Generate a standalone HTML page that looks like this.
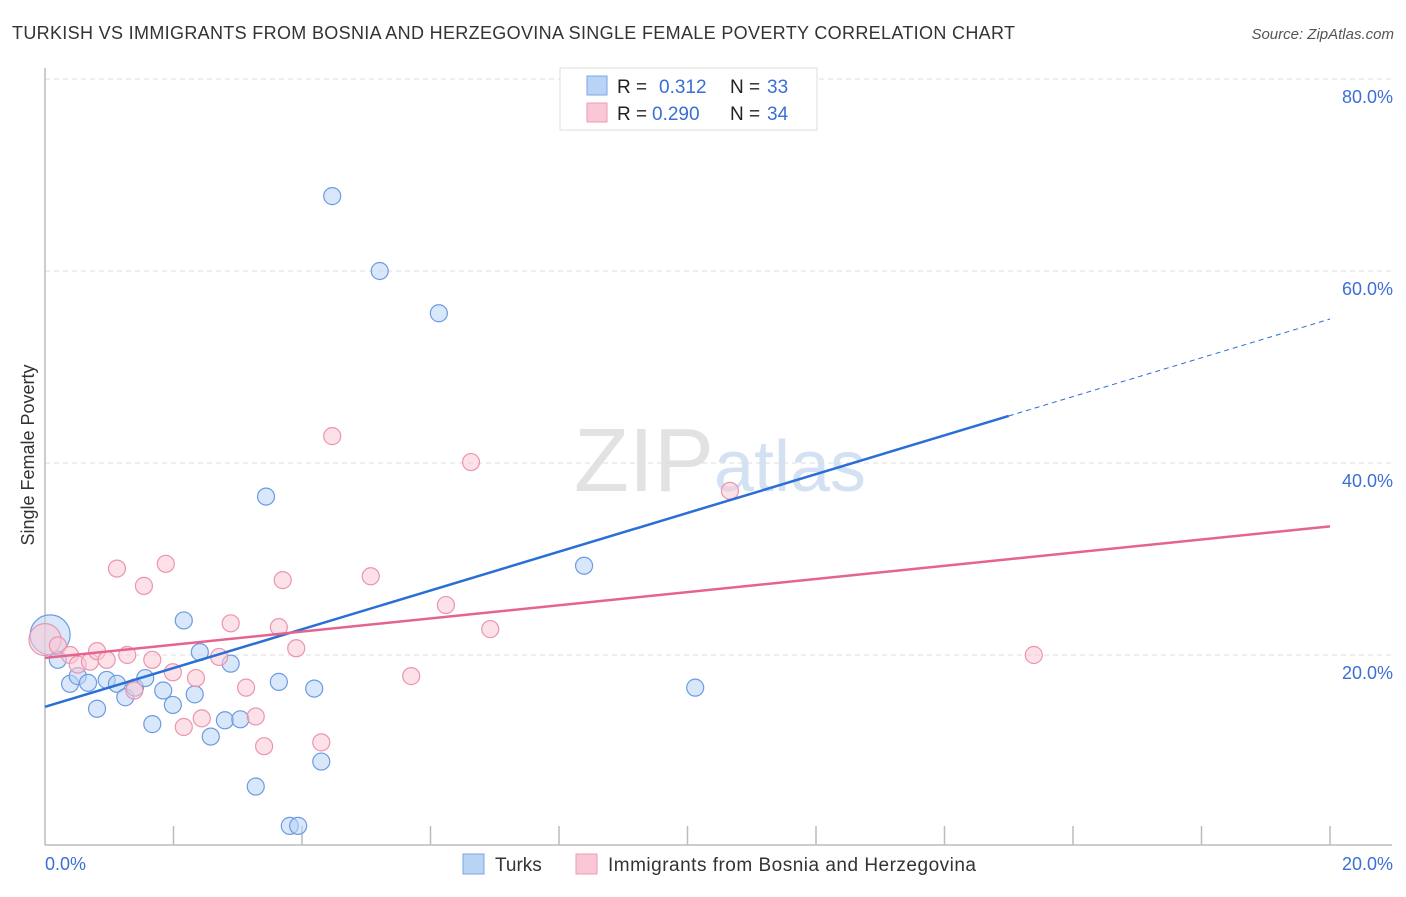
<!DOCTYPE html>
<html><head><meta charset="utf-8"><style>
body{margin:0;background:#fff;font-family:"Liberation Sans",sans-serif;}
svg text{font-family:"Liberation Sans",sans-serif;}
</style></head><body>
<svg id="chart" width="1406" height="892" xmlns="http://www.w3.org/2000/svg">
<text x="12" y="39" font-size="18" fill="#333" textLength="1003" lengthAdjust="spacing">TURKISH VS IMMIGRANTS FROM BOSNIA AND HERZEGOVINA SINGLE FEMALE POVERTY CORRELATION CHART</text>
<text x="1394" y="39" font-size="15" fill="#555" font-style="italic" text-anchor="end">Source: ZipAtlas.com</text>
<text x="720" y="491" font-size="90" fill="#ddd" text-anchor="middle" font-family="Liberation Serif"><tspan fill="#e2e2e2">ZIP</tspan><tspan fill="#d3e1f3" font-family="Liberation Sans" font-size="72">atlas</tspan></text>
<g id="grid"></g>
<line x1="45" y1="68" x2="45" y2="845" stroke="#bbb" stroke-width="1.5"/>
<line x1="45" y1="845" x2="1392" y2="845" stroke="#bbb" stroke-width="1.5"/>
<g id="xticks"></g>
<text x="28" y="455" font-size="18" fill="#333" text-anchor="middle" transform="rotate(-90 28 455)" dy="6">Single Female Poverty</text>
<text x="45" y="870" font-size="18" fill="#3b6fd4">0.0%</text>
<text x="1393" y="870" font-size="18" fill="#3b6fd4" text-anchor="end">20.0%</text>
<g id="pts"></g>
<g id="lines"></g>
<g>
<rect x="560" y="68" width="257" height="62" fill="#fff" stroke="#ddd"/>
<rect x="587" y="76" width="20" height="19" fill="#b9d3f5" stroke="#7aa6e6"/>
<rect x="587" y="103" width="20" height="19" fill="#f9c8d6" stroke="#ee9ab3"/>
<text x="617" y="93" font-size="19" fill="#222">R =</text><text x="659" y="93" font-size="19" fill="#3b6fd4">0.312</text>
<text x="730" y="93" font-size="19" fill="#222">N =</text><text x="767" y="93" font-size="19" fill="#3b6fd4">33</text>
<text x="617" y="120" font-size="19" fill="#222">R =</text><text x="652" y="120" font-size="19" fill="#3b6fd4">0.290</text>
<text x="730" y="120" font-size="19" fill="#222">N =</text><text x="767" y="120" font-size="19" fill="#3b6fd4">34</text>
</g>
<g>
<rect x="463" y="854" width="21" height="20" fill="#b9d3f5" stroke="#7aa6e6"/>
<text x="495" y="871" font-size="19" fill="#333">Turks</text>
<rect x="576" y="854" width="21" height="20" fill="#f9c8d6" stroke="#ee9ab3"/>
<text x="608" y="871" font-size="19" fill="#333" textLength="368">Immigrants from Bosnia and Herzegovina</text>
</g>
</svg>
<script>
const yTicks=[20,40,60,80];
const yTickLabels=["20.0%","40.0%","60.0%","80.0%"];
const xTicks=[2,4,6,8,10,12,14,16,18,20];
const turksX=[0.08,0.2,0.39,0.51,0.67,0.81,0.96,1.12,1.25,1.40,1.56,1.67,1.84,1.99,2.16,2.33,2.41,2.58,2.80,2.89,3.04,3.28,3.44,3.64,3.81,3.94,4.19,4.30,4.47,5.21,6.13,8.39,10.12];
const turksY=[22.1,19.5,17.0,17.8,17.1,14.4,17.4,17.0,15.6,16.6,17.6,12.8,16.3,14.8,23.6,15.9,20.3,11.5,13.2,19.1,13.3,6.3,36.5,17.2,2.2,2.2,16.5,8.9,67.8,60.0,55.6,29.3,16.6];
const bosX=[0,0.2,0.39,0.51,0.70,0.81,0.96,1.12,1.28,1.39,1.54,1.67,1.88,1.99,2.16,2.35,2.44,2.71,2.89,3.13,3.28,3.41,3.64,3.70,3.91,4.30,4.47,5.07,5.70,6.24,6.63,6.93,10.66,15.39];
const bosY=[21.6,21.0,20.0,19.0,19.3,20.4,19.5,29.0,20.0,16.3,27.2,19.5,29.5,18.2,12.5,17.6,13.4,19.8,23.3,16.6,13.6,10.5,22.9,27.8,20.7,10.9,42.8,28.2,17.8,25.2,40.1,22.7,37.1,20.0];
const turksTrend=[14.6,2.02]; // intercept, slope
const bosTrend=[19.7,0.685];
const X=v=>45+v*64.25, Y=v=>847-v*9.6;
const NS="http://www.w3.org/2000/svg";
function mk(tag,attrs,parent){const e=document.createElementNS(NS,tag);for(const k in attrs)e.setAttribute(k,attrs[k]);document.getElementById(parent).appendChild(e);return e;}
yTicks.forEach((t,i)=>{
 const l=mk('line',{x1:45,x2:1392,y1:Y(t),y2:Y(t),stroke:'#ddd','stroke-dasharray':'5,4'},'grid');
 
 
 const tx=mk('text',{x:1393,y:Y(t)+24,'font-size':18,fill:'#3b6fd4','text-anchor':'end'},'grid');
 tx.textContent=yTickLabels[i];
 
 
});
xTicks.forEach(t=>{
 const l=mk('line',{x1:X(t),x2:X(t),y1:826,y2:845,stroke:'#bbb','stroke-width':1.5},'xticks');
 
 
});
function pts(xs,ys,fill,stroke,name){
 xs.forEach((x,i)=>{
  const r=i===0?(name==='turks-point'?20:16):8.5;
  const c=mk('circle',{cx:X(x),cy:Y(ys[i]),r:r,fill:fill,'fill-opacity':0.55,stroke:stroke,'stroke-width':1.2},'pts');
  
  
 });
}
pts(turksX,turksY,'#b9d3f5','#6d9be0','turks-point');
pts(bosX,bosY,'#f9c8d6','#ec94ae','bosnia-point');
const f=(tr,x)=>tr[0]+tr[1]*x;
let l=mk('line',{x1:X(0),y1:Y(f(turksTrend,0)),x2:X(15),y2:Y(f(turksTrend,15)),stroke:'#2a6fd6','stroke-width':2.5},'lines');


l=mk('line',{x1:X(15),y1:Y(f(turksTrend,15)),x2:X(20),y2:Y(f(turksTrend,20)),stroke:'#2a6fd6','stroke-width':1,'stroke-dasharray':'5,4'},'lines');


l=mk('line',{x1:X(0),y1:Y(f(bosTrend,0)),x2:X(20),y2:Y(f(bosTrend,20)),stroke:'#e5638f','stroke-width':2.5},'lines');


</script>
</body></html>
